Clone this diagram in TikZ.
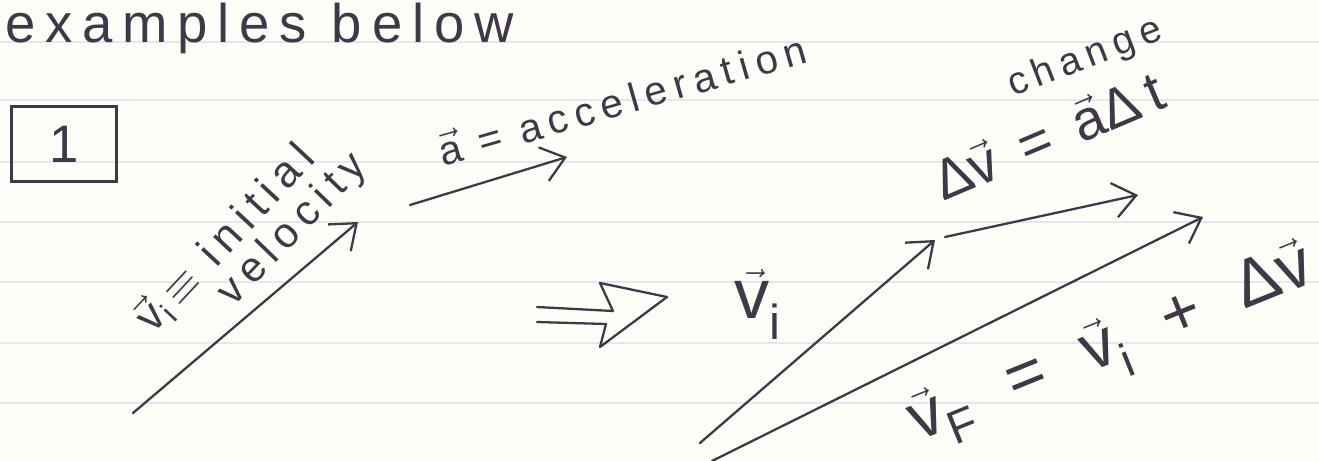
\documentclass[tikz,border=0pt]{standalone}
\usepackage{amsmath}
\usepackage{fontspec}
\setmainfont{Liberation Sans}
\newfontfamily\handfont[LetterSpace=18]{Liberation Sans}
\usetikzlibrary{arrows.meta}
\definecolor{ink}{RGB}{62,56,72}
\definecolor{paper}{RGB}{255,253,247}
\definecolor{rulecol}{RGB}{221,234,240}
\newcommand{\vect}[1]{\ensuremath{\vec{\text{#1}}}}
\newcommand{\vsub}[2]{\ensuremath{\vec{\text{#1}}_{\text{#2}}}}
\newcommand{\handsz}[1]{\fontsize{#1}{#1}\selectfont}
\tikzset{
  vecarrow/.style={-{Straight Barb[length=4.5mm, width=7mm]}, line width=1.3pt, draw=ink, line cap=round},
  inkline/.style={draw=ink, line width=1.3pt, line join=round, line cap=round},
  handtext/.style={text=ink, inner sep=0pt, font=\handfont\handsz{#1}},
  numbox/.style={draw=ink, line width=1.3pt, minimum width=21mm, minimum height=15mm, text=ink, font=\handfont\handsz{30}},
  ruleline/.style={draw=rulecol, line width=0.8pt}
}

\begin{document}
\begin{tikzpicture}[x=0.2mm, y=-0.2mm]
  \fill[paper] (0,0) rectangle (1319,461);
  \useasboundingbox (0,0) rectangle (1319,461);
  \foreach \y in {42,100,162,222,282,343,403}
    \draw[ruleline] (0,\y) -- (1319,\y);

  \node[handtext=31, anchor=base west] (title) at (5,42) {examples below};
  \node[numbox] (one) at (64,144) {1};

  \coordinate (vi0) at (133,413);
  \coordinate (vi1) at (358,222);
  \coordinate (a0) at (410,205);
  \coordinate (a1) at (567,157);
  \coordinate (u0) at (700,443);
  \coordinate (u1) at (935,240);
  \coordinate (d0) at (945,237);
  \coordinate (d1) at (1138,195);
  \coordinate (f0) at (712,461);
  \coordinate (f1) at (1203,217);

  \draw[vecarrow] (vi0) -- (vi1);
  \node[handtext=25, rotate=47] (vilab) at (225,238) {\vsub{v}{i}\,\ensuremath{\equiv} initial};
  \node[handtext=24, rotate=46] (vellab) at (293,230) {velocity};

  \draw[vecarrow] (a0) -- (a1);
  \node[handtext=23, rotate=16, anchor=base west] (alab) at (443,167) {\vect{a} = acceleration};

  \draw[inkline] (537,307) -- (613,311) -- (600,283) -- (667,297) -- (600,347) -- (606,324) -- (537,322);

  \node[handtext=40] (vimid) at (758,304) {\vsub{v}{i}};
  \draw[vecarrow] (u0) -- (u1);
  \draw[vecarrow] (d0) -- (d1);
  \draw[vecarrow] (f0) -- (f1);

  \node[handtext=22, rotate=21, anchor=base west] (chg) at (1013,97) {change};
  \node[handtext=32, rotate=23, anchor=base west] (dvlab) at (943,202) {Δ\vect{v} = \vect{a}Δt};
  \node[handtext=38, rotate=22, anchor=base west] (vflab) at (918,442) {\vsub{v}{F}\, = \,\vsub{v}{i}\, + \,Δ\vect{v}};
\end{tikzpicture}
\end{document}
